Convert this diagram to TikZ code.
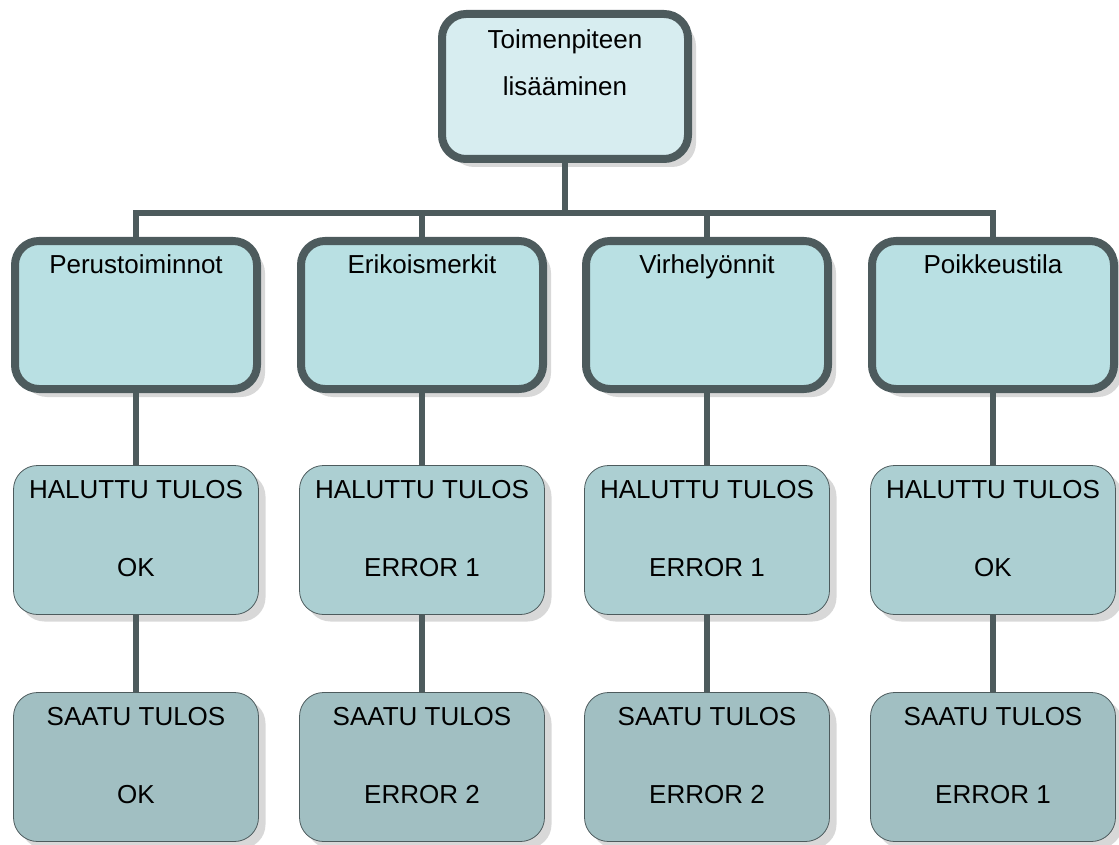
\documentclass[tikz,border=0pt]{standalone}
\usepackage{fontspec}
\setmainfont{Liberation Sans}
\usetikzlibrary{shadows}
\definecolor{edge}{HTML}{4D5B5D}
\definecolor{headfill}{HTML}{D7EDF0}
\definecolor{groupfill}{HTML}{B9E0E3}
\definecolor{wantfill}{HTML}{ACCFD2}
\definecolor{gotfill}{HTML}{A1BFC2}
\newcommand{\boxtext}[2][120pt]{\parbox[c][#1][t]{240pt}{\centering\fontsize{26}{31}\selectfont #2}}

\begin{document}
\begin{tikzpicture}[x=1pt, y=-1pt, head/.style={draw=edge, fill=headfill, line width=8pt, rounded corners=24pt, minimum width=246pt, minimum height=145pt, inner sep=0pt, drop shadow={shadow xshift=8pt, shadow yshift=-8pt, fill=black!30}}, group/.style={head, fill=groupfill, minimum width=242pt, minimum height=148pt}, want/.style={draw=edge, fill=wantfill, line width=0.8pt, rounded corners=24pt, minimum width=245pt, minimum height=149pt, inner sep=0pt, drop shadow={shadow xshift=7pt, shadow yshift=-7pt, fill=black!30}}, got/.style={want, fill=gotfill}, n/.style={draw=edge, line width=6pt}]
            \useasboundingbox (0,0) rectangle (1119,845);
            % nodes
            \node[head] (top) at (565,86.5) {\boxtext[113pt]{Toimenpiteen\\[16pt]lisääminen}};
            \node[group] (p1) at (136,315) {\boxtext{Perustoiminnot}};
            \node[group] (p2) at (422,315) {\boxtext{Erikoismerkit}};
            \node[group] (p3) at (707,315) {\boxtext{Virhelyönnit}};
            \node[group] (p4) at (993,315) {\boxtext{Poikkeustila}};
            \node[want] (h1) at (136,540) {\boxtext{HALUTTU TULOS\\[47pt]OK}};
            \node[want] (h2) at (422,540) {\boxtext{HALUTTU TULOS\\[47pt]ERROR 1}};
            \node[want] (h3) at (707,540) {\boxtext{HALUTTU TULOS\\[47pt]ERROR 1}};
            \node[want] (h4) at (993,540) {\boxtext{HALUTTU TULOS\\[47pt]OK}};
            \node[got] (s1) at (136,767) {\boxtext{SAATU TULOS\\[47pt]OK}};
            \node[got] (s2) at (422,767) {\boxtext{SAATU TULOS\\[47pt]ERROR 2}};
            \node[got] (s3) at (707,767) {\boxtext{SAATU TULOS\\[47pt]ERROR 2}};
            \node[got] (s4) at (993,767) {\boxtext{SAATU TULOS\\[47pt]ERROR 1}};
            \coordinate (hub) at (565,213);
            % edges
            \draw [n] (top) -- (hub);
            \draw [n] (hub) -| (p1.north);
            \draw [n] (hub) -| (p2.north);
            \draw [n] (hub) -| (p3.north);
            \draw [n] (hub) -| (p4.north);
            \draw [n] (p1) -- (h1);
            \draw [n] (p2) -- (h2);
            \draw [n] (p3) -- (h3);
            \draw [n] (p4) -- (h4);
            \draw [n] (h1) -- (s1);
            \draw [n] (h2) -- (s2);
            \draw [n] (h3) -- (s3);
            \draw [n] (h4) -- (s4);
        \end{tikzpicture}
\end{document}
